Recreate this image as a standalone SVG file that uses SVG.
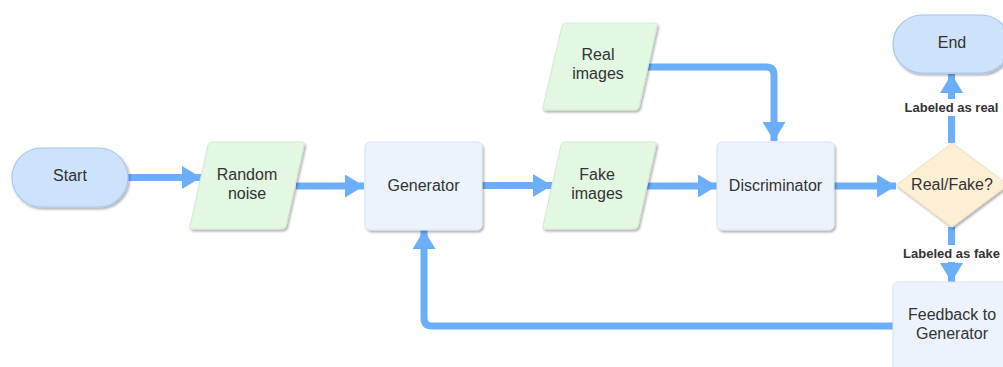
<svg xmlns="http://www.w3.org/2000/svg" width="1003" height="367" viewBox="0 0 1003 367">
  <defs>
    <filter id="shadow" x="-20%" y="-20%" width="140%" height="150%">
      <feDropShadow dx="1.5" dy="2" stdDeviation="1.3" flood-color="#000" flood-opacity="0.3"/>
    </filter>
    <marker id="arrow" viewBox="0 0 19 23" refX="19" refY="11.5" markerUnits="userSpaceOnUse" markerWidth="19" markerHeight="23" orient="auto">
      <path d="M0,0 L19,11.5 L0,23 Z" fill="#6aaefc"/>
    </marker>
  </defs>
  <style>
    text { font-family: "Liberation Sans", Arial, sans-serif; fill: #333333; }
    .t { font-size: 16px; text-anchor: middle; }
    .lbl { font-size: 13px; font-weight: bold; text-anchor: middle; }
    .term { fill: #cde2fb; stroke: #a6c8f0; stroke-width: 1.2; filter: url(#shadow); }
    .proc { fill: #ecf3fd; stroke: #d8e4f3; stroke-width: 1; filter: url(#shadow); }
    .data { fill: #e3f8e3; stroke: #d2e9d2; stroke-width: 1; stroke-linejoin: round; filter: url(#shadow); }
    .dec { fill: #fdefd3; stroke: #f1e0c0; stroke-width: 1; stroke-linejoin: round; filter: url(#shadow); }
    .edge { fill: none; stroke: #6aaefc; stroke-width: 7; marker-end: url(#arrow); }
    .line { fill: none; stroke: #6aaefc; stroke-width: 7; }
  </style>

  <g id="connectors">
    <path class="edge" d="M128,177.5 H201"/>
    <path class="edge" d="M296,186 H364"/>
    <path class="edge" d="M482,185.5 H552"/>
    <path class="edge" d="M646,67 H766 Q774,67 774,75 V141"/>
    <path class="edge" d="M645,186 H717"/>
    <path class="edge" d="M834,186 H896"/>
    <path class="line" d="M951.5,143 V116"/>
    <path class="edge" d="M951.5,100 V74"/>
    <path class="line" d="M951.5,227 V248"/>
    <path class="edge" d="M951.5,262 V282"/>
    <path class="edge" d="M893,326 H432 Q424,326 424,318 V230"/>
  </g>

  <g id="start">
    <rect class="term" x="12" y="148" width="116" height="59" rx="29.5"/>
    <text class="t" x="70" y="181">Start</text>
  </g>

  <g id="random-noise">
    <path class="data" d="M212,142 H302 Q305,142 304,145 L286,226 Q285,229 282,229 H192 Q189,229 190,226 L208,145 Q209,142 212,142 Z"/>
    <text class="t" x="247" y="180">Random</text>
    <text class="t" x="247" y="199">noise</text>
  </g>

  <g id="generator">
    <rect class="proc" x="365" y="142" width="117" height="88" rx="5"/>
    <text class="t" x="423.5" y="190.5">Generator</text>
  </g>

  <g id="fake-images">
    <path class="data" d="M565,142 H654 Q657,142 656,145 L638,226 Q637,229 634,229 H545 Q542,229 543,226 L561,145 Q562,142 565,142 Z"/>
    <text class="t" x="597" y="179.5">Fake</text>
    <text class="t" x="597" y="198.5">images</text>
  </g>

  <g id="real-images">
    <path class="data" d="M566,23 H655 Q658,23 657,26 L639,107 Q638,110 635,110 H545 Q542,110 543,107 L562,26 Q563,23 566,23 Z"/>
    <text class="t" x="598" y="60">Real</text>
    <text class="t" x="598" y="79">images</text>
  </g>

  <g id="discriminator">
    <rect class="proc" x="717" y="142" width="117" height="88" rx="5"/>
    <text class="t" x="775.5" y="190.5">Discriminator</text>
  </g>

  <g id="decision">
    <path class="dec" d="M952,143 L1008,185 L952,227 L896,185 Z"/>
    <text class="t" x="952" y="190">Real/Fake?</text>
  </g>

  <g id="end">
    <rect class="term" x="893" y="15" width="117" height="58" rx="29"/>
    <text class="t" x="952" y="48">End</text>
  </g>

  <g id="feedback">
    <rect class="proc" x="893" y="282" width="117" height="90" rx="5"/>
    <text class="t" x="952" y="320">Feedback to</text>
    <text class="t" x="952" y="339">Generator</text>
  </g>

  <g id="edge-labels">
    <rect x="902" y="99" width="100" height="17" fill="#ffffff"/>
    <text class="lbl" x="951.5" y="111.5">Labeled as real</text>
    <rect x="898" y="245" width="106" height="17" fill="#ffffff"/>
    <text class="lbl" x="951.5" y="257.5">Labeled as fake</text>
  </g>
</svg>
